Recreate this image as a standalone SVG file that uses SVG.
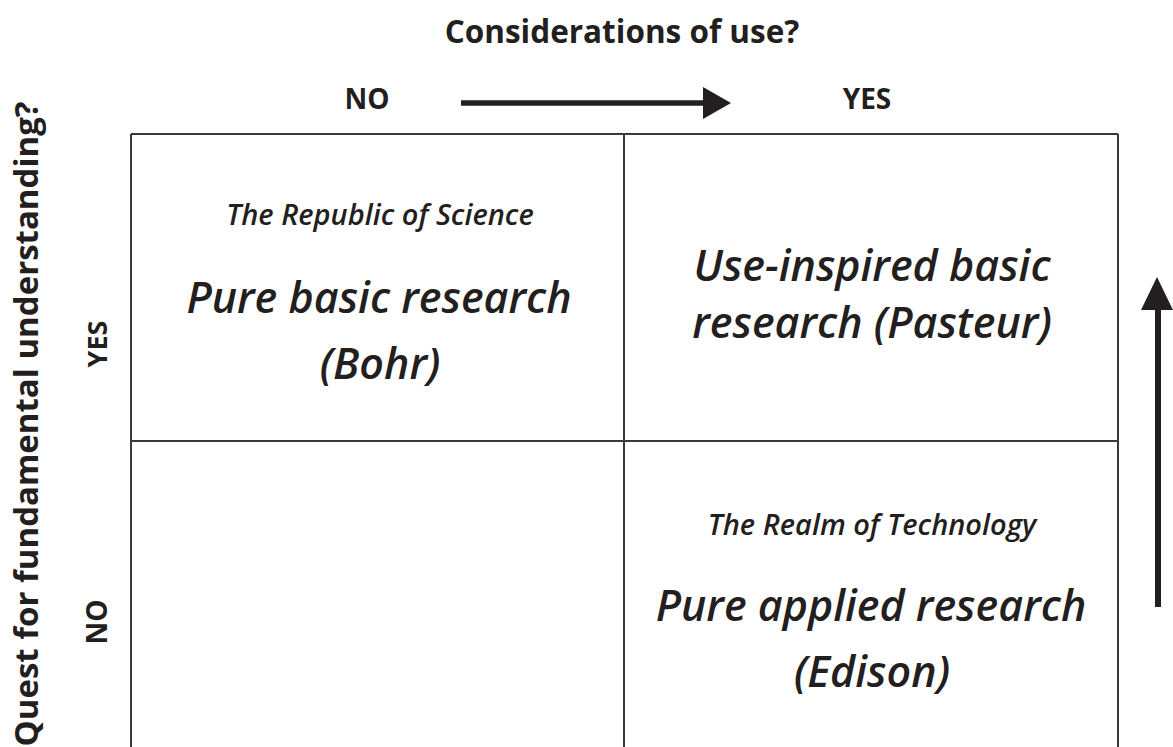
<svg xmlns="http://www.w3.org/2000/svg" width="1173" height="747" viewBox="0 0 1173 747">
<style>
.lbl{font-family:"Open Sans","Noto Sans",sans-serif;font-weight:700;fill:#231f20}
.sub{font-family:"Open Sans","Noto Sans",sans-serif;font-style:italic;font-weight:600;fill:#231f20;font-size:29px}
.big{font-family:"Open Sans","Noto Sans",sans-serif;font-style:italic;font-weight:600;fill:#231f20;font-size:43px}
.grid{stroke:#3a3a3a;stroke-width:2;fill:none}
</style>
<rect width="1173" height="747" fill="#fff"/>
<g id="axis-labels">
<text class="lbl" x="622" y="43" font-size="31.5" text-anchor="middle">Considerations of use?</text>
<text class="lbl" x="367" y="109" font-size="28" text-anchor="middle">NO</text>
<text class="lbl" x="867" y="109" font-size="28" text-anchor="middle">YES</text>
<text class="lbl" transform="translate(38,424) rotate(-90)" font-size="33" text-anchor="middle">Quest for fundamental understanding?</text>
<text class="lbl" transform="translate(107,344) rotate(-90)" font-size="27" text-anchor="middle">YES</text>
<text class="lbl" transform="translate(107,622) rotate(-90)" font-size="28" text-anchor="middle">NO</text>
</g>
<g id="grid">
<line class="grid" x1="131" y1="134" x2="1118" y2="134"/>
<line class="grid" x1="131" y1="134" x2="131" y2="747"/>
<line class="grid" x1="1118" y1="134" x2="1118" y2="747"/>
<line class="grid" x1="624" y1="134" x2="624" y2="747"/>
<line class="grid" x1="131" y1="441" x2="1118" y2="441"/>
</g>
<g id="q-bohr">
<text class="sub" x="380" y="225" text-anchor="middle">The Republic of Science</text>
<text class="big" x="379" y="313" text-anchor="middle">Pure basic research</text>
<text class="big" x="380" y="379" text-anchor="middle">(Bohr)</text>
</g>
<g id="q-pasteur">
<text class="big" x="872" y="281" text-anchor="middle">Use-inspired basic</text>
<text class="big" x="872" y="338" text-anchor="middle">research (Pasteur)</text>
</g>
<g id="q-edison">
<text class="sub" x="872" y="535" text-anchor="middle">The Realm of Technology</text>
<text class="big" x="871" y="621" text-anchor="middle">Pure applied research</text>
<text class="big" x="872" y="687" text-anchor="middle">(Edison)</text>
</g>
<g id="connectors">
<line x1="461" y1="103" x2="705" y2="103" stroke="#231f20" stroke-width="5.5"/>
<polygon points="703,87 731,103 703,119" fill="#231f20"/>
<line x1="1158" y1="607" x2="1158" y2="306" stroke="#231f20" stroke-width="6"/>
<polygon points="1141,310 1157,277 1173,310" fill="#231f20"/>
</g>
</svg>
